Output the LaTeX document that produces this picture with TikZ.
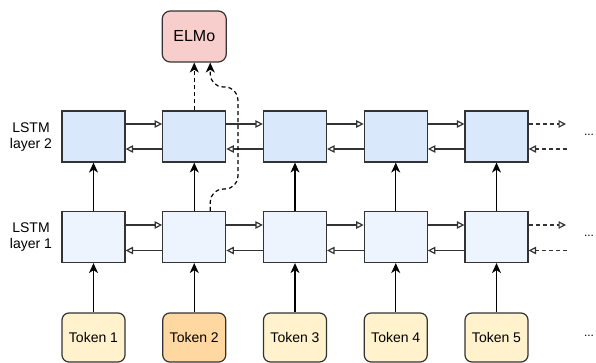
\documentclass[tikz,border=0pt]{standalone}
\usepackage{fontspec}
\setmainfont{Liberation Sans}
\usetikzlibrary{arrows.meta}
\definecolor{edgec}{HTML}{333333}
\definecolor{ltwo}{HTML}{DAE8FC}
\definecolor{lone}{HTML}{EEF4FD}
\definecolor{tokc}{HTML}{FFF2CC}
\definecolor{tokhi}{HTML}{FFD7A0}
\definecolor{elmoc}{HTML}{F8CECC}
\begin{document}
\begin{tikzpicture}[x=1pt,y=-1pt,
  cell/.style={draw=edgec, line width=1.2pt, minimum width=63pt, minimum height=51pt, inner sep=0pt},
  tok/.style={draw=edgec, line width=1.2pt, minimum width=63pt, minimum height=49pt, inner sep=0pt, rounded corners=7pt, fill=tokc, font=\fontsize{14}{16}\selectfont},
  lab/.style={align=center, font=\fontsize{14}{16}\selectfont},
  dots/.style={font=\fontsize{12}{14}\selectfont},
  fwd/.style={draw=edgec, line width=1.2pt, -{Triangle[open, length=7.5pt, width=7.5pt]}},
  up/.style={draw=black, line width=1.2pt, -{Stealth[length=10pt, width=9pt, inset=3pt]}},
  dsh/.style={draw=black, line width=1.2pt, dash pattern=on 4pt off 3pt},
  dshopen/.style={draw=edgec, line width=1.2pt, dash pattern=on 4pt off 3pt, -{Triangle[open, length=7.5pt, width=7.5pt]}}
]
\useasboundingbox (0,0) rectangle (596,363);

% ELMo
\node[draw=edgec, line width=1.2pt, rounded corners=8pt, fill=elmoc, minimum width=64pt, minimum height=51pt, font=\fontsize{16}{18}\selectfont] (elmo) at (194.25,36.5) {ELMo};

% layer labels
\node[lab] (lab2) at (31,137) {LSTM\\layer 2};
\node[lab] (lab1) at (31,237) {LSTM\\layer 1};

% boxes
\foreach \i/\x in {1/93.5,2/194.25,3/295,4/395.75,5/496.5}{
  \node[cell, fill=ltwo] (u\i) at (\x,136.5) {};
  \node[cell, fill=lone] (d\i) at (\x,237) {};
}
\node[tok] (t1) at (93.5,337.5) {Token 1};
\node[tok, fill=tokhi] (t2) at (194.25,337.5) {Token 2};
\node[tok] (t3) at (295,337.5) {Token 3};
\node[tok] (t4) at (395.75,337.5) {Token 4};
\node[tok] (t5) at (496.5,337.5) {Token 5};

% vertical arrows
\foreach \i in {1,...,5}{
  \draw[up] (t\i) -- (d\i);
  \draw[up] (d\i) -- (u\i);
}

% horizontal arrows
\foreach \i/\j in {1/2,2/3,3/4,4/5}{
  \draw[fwd] ([yshift=12.5pt]u\i.east) -- ([yshift=12.5pt]u\j.west);
  \draw[fwd] ([yshift=-12.5pt]u\j.west) -- ([yshift=-12.5pt]u\i.east);
  \draw[fwd] ([yshift=12pt]d\i.east) -- ([yshift=12pt]d\j.west);
  \draw[fwd] ([yshift=-13.5pt]d\j.west) -- ([yshift=-13.5pt]d\i.east);
}

% dashed continuation
\coordinate (ru) at (566,124);
\coordinate (rul) at (567,149);
\coordinate (rd) at (566,225);
\coordinate (rdl) at (567,250.5);
\draw[dshopen] (u5.east |- ru) -- (ru);
\draw[dshopen] (rul) -- (u5.east |- rul);
\draw[dshopen] (d5.east |- rd) -- (rd);
\draw[dshopen] (rdl) -- (d5.east |- rdl);

\node[dots] (e1) at (589,135) {...};
\node[dots] (e2) at (589,236) {...};
\node[dots] (e3) at (589,336) {...};

% ELMo inputs
\draw[dsh, -{Stealth[length=10pt, width=9pt, inset=3pt]}] (u2.north) -- (elmo.south);
\coordinate (k1) at (238,189);
\coordinate (k2) at (238,87);
\draw[dsh, rounded corners=13pt, -{Stealth[length=10pt, width=9pt, inset=3pt]}]
  ([xshift=16pt]d2.north) |- (k1) -- (k2) -| ([xshift=16pt]elmo.south);
\end{tikzpicture}
\end{document}
